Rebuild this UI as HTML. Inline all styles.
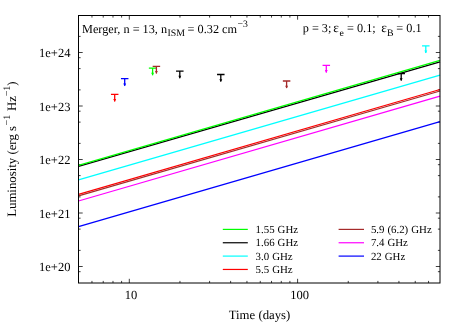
<!DOCTYPE html><html><head><meta charset="utf-8"><style>html,body{margin:0;padding:0;background:#fff}svg{display:block}text{font-family:"Liberation Serif",serif;fill:#000;text-rendering:geometricPrecision}svg{will-change:transform;opacity:0.999}</style></head><body>
<svg width="463" height="324" viewBox="0 0 463 324">
<rect width="463" height="324" fill="#fff"/>
<path d="M91.96 283.0 v-2.1 M91.96 15.5 v2.1 M103.23 283.0 v-2.1 M103.23 15.5 v2.1 M112.99 283.0 v-2.1 M112.99 15.5 v2.1 M121.60 283.0 v-2.1 M121.60 15.5 v2.1 M129.30 283.0 v-4.2 M129.30 15.5 v4.2 M179.96 283.0 v-2.1 M179.96 15.5 v2.1 M209.60 283.0 v-2.1 M209.60 15.5 v2.1 M230.63 283.0 v-2.1 M230.63 15.5 v2.1 M246.94 283.0 v-2.1 M246.94 15.5 v2.1 M260.26 283.0 v-2.1 M260.26 15.5 v2.1 M271.53 283.0 v-2.1 M271.53 15.5 v2.1 M281.29 283.0 v-2.1 M281.29 15.5 v2.1 M289.90 283.0 v-2.1 M289.90 15.5 v2.1 M297.60 283.0 v-4.2 M297.60 15.5 v4.2 M348.26 283.0 v-2.1 M348.26 15.5 v2.1 M377.90 283.0 v-2.1 M377.90 15.5 v2.1 M398.93 283.0 v-2.1 M398.93 15.5 v2.1 M415.24 283.0 v-2.1 M415.24 15.5 v2.1 M428.56 283.0 v-2.1 M428.56 15.5 v2.1 M78.5 271.68 h2.1 M440.0 271.68 h-2.1 M78.5 266.50 h4.2 M440.0 266.50 h-4.2 M78.5 250.39 h2.1 M440.0 250.39 h-2.1 M78.5 229.11 h2.1 M440.0 229.11 h-2.1 M78.5 218.18 h2.1 M440.0 218.18 h-2.1 M78.5 213.00 h4.2 M440.0 213.00 h-4.2 M78.5 196.89 h2.1 M440.0 196.89 h-2.1 M78.5 175.61 h2.1 M440.0 175.61 h-2.1 M78.5 164.68 h2.1 M440.0 164.68 h-2.1 M78.5 159.50 h4.2 M440.0 159.50 h-4.2 M78.5 143.39 h2.1 M440.0 143.39 h-2.1 M78.5 122.11 h2.1 M440.0 122.11 h-2.1 M78.5 111.18 h2.1 M440.0 111.18 h-2.1 M78.5 106.00 h4.2 M440.0 106.00 h-4.2 M78.5 89.89 h2.1 M440.0 89.89 h-2.1 M78.5 68.61 h2.1 M440.0 68.61 h-2.1 M78.5 57.68 h2.1 M440.0 57.68 h-2.1 M78.5 52.50 h4.2 M440.0 52.50 h-4.2 M78.5 36.39 h2.1 M440.0 36.39 h-2.1" stroke="#000" stroke-width="0.75" fill="none"/>
<path d="M110.95 94.30 H118.45 M114.70 94.30 V101.40" stroke="#ff0000" stroke-width="1.3" fill="none"/><path d="M113.25 99.00 L114.70 101.80 L116.15 99.00 Z" fill="#ff0000"/>
<path d="M120.95 78.70 H128.45 M124.70 78.70 V85.80" stroke="#0000ff" stroke-width="1.3" fill="none"/><path d="M123.25 83.40 L124.70 86.20 L126.15 83.40 Z" fill="#0000ff"/>
<path d="M148.85 68.10 H156.35 M152.60 68.10 V75.20" stroke="#00ff00" stroke-width="1.3" fill="none"/><path d="M151.15 72.80 L152.60 75.60 L154.05 72.80 Z" fill="#00ff00"/>
<path d="M152.65 66.30 H160.15 M156.40 66.30 V73.40" stroke="#a52a2a" stroke-width="1.3" fill="none"/><path d="M154.95 71.00 L156.40 73.80 L157.85 71.00 Z" fill="#a52a2a"/>
<path d="M176.05 71.10 H183.55 M179.80 71.10 V78.20" stroke="#000" stroke-width="1.3" fill="none"/><path d="M178.35 75.80 L179.80 78.60 L181.25 75.80 Z" fill="#000"/>
<path d="M217.05 74.50 H224.55 M220.80 74.50 V81.60" stroke="#000" stroke-width="1.3" fill="none"/><path d="M219.35 79.20 L220.80 82.00 L222.25 79.20 Z" fill="#000"/>
<path d="M282.85 81.00 H290.35 M286.60 81.00 V88.10" stroke="#a52a2a" stroke-width="1.3" fill="none"/><path d="M285.15 85.70 L286.60 88.50 L288.05 85.70 Z" fill="#a52a2a"/>
<path d="M322.55 65.40 H330.05 M326.30 65.40 V72.50" stroke="#ff00ff" stroke-width="1.3" fill="none"/><path d="M324.85 70.10 L326.30 72.90 L327.75 70.10 Z" fill="#ff00ff"/>
<path d="M397.45 73.50 H404.95 M401.20 73.50 V80.60" stroke="#000" stroke-width="1.3" fill="none"/><path d="M399.75 78.20 L401.20 81.00 L402.65 78.20 Z" fill="#000"/>
<path d="M422.05 45.80 H429.55 M425.80 45.80 V52.90" stroke="#00ffff" stroke-width="1.3" fill="none"/><path d="M424.35 50.50 L425.80 53.30 L427.25 50.50 Z" fill="#00ffff"/>
<path d="M78.5 166.3 L440.0 61.9" stroke="#000000" stroke-width="1.3" fill="none"/>
<path d="M78.5 165.3 L440.0 60.4" stroke="#00ff00" stroke-width="1.3" fill="none"/>
<path d="M78.5 179.9 L440.0 75.2" stroke="#00ffff" stroke-width="1.3" fill="none"/>
<path d="M78.5 194.4 L440.0 89.5" stroke="#ff0000" stroke-width="1.3" fill="none"/>
<path d="M78.5 195.9 L440.0 91.0" stroke="#a52a2a" stroke-width="1.3" fill="none"/>
<path d="M78.5 201.0 L440.0 96.2" stroke="#ff00ff" stroke-width="1.3" fill="none"/>
<path d="M78.5 226.7 L440.0 121.6" stroke="#0000ff" stroke-width="1.3" fill="none"/>
<rect x="78.5" y="15.5" width="361.50" height="267.50" fill="none" stroke="#000" stroke-width="1"/>
<text x="70.4" y="271.00" font-size="12.5" text-anchor="end">1e+20</text>
<text x="70.4" y="217.50" font-size="12.5" text-anchor="end">1e+21</text>
<text x="70.4" y="164.00" font-size="12.5" text-anchor="end">1e+22</text>
<text x="70.4" y="110.50" font-size="12.5" text-anchor="end">1e+23</text>
<text x="70.4" y="57.00" font-size="12.5" text-anchor="end">1e+24</text>
<text x="131.00" y="299.2" font-size="12.5" text-anchor="middle">10</text>
<text x="299.60" y="299.2" font-size="12.5" text-anchor="middle">100</text>
<text x="259.5" y="319" font-size="12.75" text-anchor="middle">Time (days)</text>
<text transform="translate(16.2,0) rotate(-90)" font-size="12.8" y="0"><tspan x="-216.8">Luminosity (erg s</tspan><tspan x="-125.5" dy="-6.2" font-size="10">−1</tspan><tspan x="-111.1" dy="6.2">Hz</tspan><tspan x="-96.3" dy="-6.2" font-size="10">−1</tspan><tspan x="-85.7" dy="6.2">)</tspan></text>
<text y="32.7" font-size="12.25"><tspan x="82.0">Merger, n = 13, n</tspan><tspan x="167.6" dy="3.75" font-size="9.8">ISM</tspan><tspan x="187.6" dy="-3.75">= 0.32 cm</tspan><tspan x="237.6" dy="-5.9" font-size="9.8">−3</tspan></text>
<text y="32.3" font-size="12.25"><tspan x="302.7">p = 3;</tspan><tspan x="333.3" font-size="13.4">ε</tspan><tspan x="339.4" dy="3.4" font-size="9.8">e</tspan><tspan x="347.0" dy="-3.4">= 0.1;</tspan><tspan x="381.2" font-size="13.4">ε</tspan><tspan x="386.9" dy="3.4" font-size="9.8">B</tspan><tspan x="396.3" dy="-3.4">= 0.1</tspan></text>
<path d="M222.8 229.40 H247.8" stroke="#00ff00" stroke-width="1.2"/>
<text x="255.6" y="233.00" font-size="10.85" word-spacing="0.3">1.55 GHz</text>
<path d="M222.8 242.75 H247.8" stroke="#000" stroke-width="1.2"/>
<text x="255.6" y="246.35" font-size="10.85" word-spacing="0.3">1.66 GHz</text>
<path d="M222.8 256.10 H247.8" stroke="#00ffff" stroke-width="1.2"/>
<text x="255.6" y="259.70" font-size="10.85" word-spacing="0.3">3.0 GHz</text>
<path d="M222.8 269.45 H247.8" stroke="#ff0000" stroke-width="1.2"/>
<text x="255.6" y="273.05" font-size="10.85" word-spacing="0.3">5.5 GHz</text>
<path d="M338.6 229.40 H364" stroke="#a52a2a" stroke-width="1.2"/>
<text x="370.9" y="233.00" font-size="10.85" word-spacing="0.3">5.9 (6.2) GHz</text>
<path d="M338.6 242.75 H364" stroke="#ff00ff" stroke-width="1.2"/>
<text x="370.9" y="246.35" font-size="10.85" word-spacing="0.3">7.4 GHz</text>
<path d="M338.6 256.10 H364" stroke="#0000ff" stroke-width="1.2"/>
<text x="370.9" y="259.70" font-size="10.85" word-spacing="0.3">22 GHz</text>
</svg></body></html>
